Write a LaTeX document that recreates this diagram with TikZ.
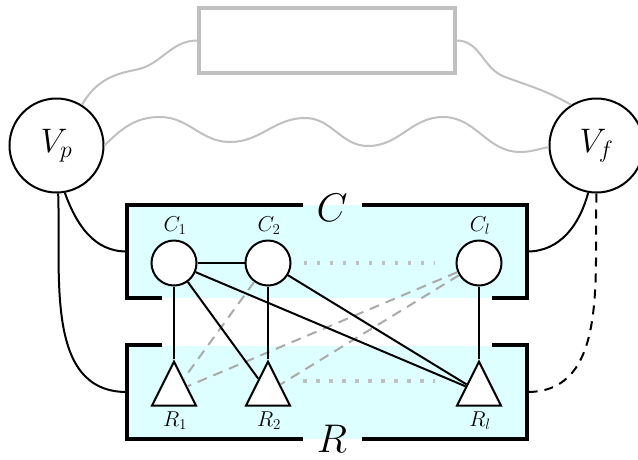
\RequirePackage{fix-cm}
\documentclass[tikz,border=0pt]{standalone}
\usetikzlibrary{shapes.geometric}
\definecolor{boxfill}{RGB}{221,255,255}
\definecolor{lightgr}{RGB}{192,192,192}
\definecolor{dashgr}{RGB}{170,170,170}
\begin{document}
\begin{tikzpicture}[x=1pt,y=-1pt,
  every node/.style={inner sep=0pt},
  bignode/.style={circle,draw,line width=2pt,fill=white,minimum size=94pt,font=\fontsize{34}{40}\selectfont},
  cnode/.style={circle,draw,line width=2pt,fill=white,minimum size=45pt},
  rnode/.style={isosceles triangle,isosceles triangle stretches,shape border rotate=90,draw,line width=2pt,fill=white,minimum width=44pt,minimum height=44pt,anchor=apex},
  boxbg/.style={rectangle,fill=boxfill,minimum width=400pt,minimum height=93pt},
  bracket/.style={line width=4pt},
  thin/.style={line width=2pt},
  gdash/.style={draw=dashgr,line width=2pt,dash pattern=on 10pt off 7pt},
  gdot/.style={draw=lightgr,line width=3.5pt,dash pattern=on 3.5pt off 9.5pt},
  wavy/.style={draw=lightgr,line width=2pt},
  lbl/.style={font=\fontsize{21.5}{25}\selectfont},
  biglbl/.style={font=\fontsize{40}{48}\selectfont},
]
\useasboundingbox (0,0) rectangle (638,459);

% boxes
\node[boxbg] (Cbox) at (327,251.5) {};
\node[boxbg] (Rbox) at (327,392) {};
\draw[bracket] ([xshift=-24pt]Cbox.north) -- (Cbox.north west) -- (Cbox.south west) -- ([xshift=35pt]Cbox.south west);
\draw[bracket] ([xshift=35pt]Cbox.north) -- (Cbox.north east) -- (Cbox.south east) -- ([xshift=-35pt]Cbox.south east);
\draw[bracket] ([xshift=35pt]Rbox.north west) -- (Rbox.north west) -- (Rbox.south west) -- ([xshift=-24pt]Rbox.south);
\draw[bracket] ([xshift=-35pt]Rbox.north east) -- (Rbox.north east) -- (Rbox.south east) -- ([xshift=35pt]Rbox.south);
\node[biglbl] (Clab) at (332,208) {$C$};
\node[biglbl] (Rlab) at (332,438.5) {$R$};

% top nodes
\node[rectangle,draw=lightgr,line width=3.5pt,minimum width=256pt,minimum height=65pt] (box) at (327,40.5) {};
\node[bignode] (Vp) at (56.5,145.5) {$V_p$};
\node[bignode] (Vf) at (596.5,145.5) {$V_f$};

% C and R nodes
\node[cnode] (C1) at (174,263) {};
\node[cnode] (C2) at (268,263) {};
\node[cnode] (Cl) at (479,263) {};
\node[lbl] (C1lab) at (175,226) {$C_1$};
\node[lbl] (C2lab) at (269,226) {$C_2$};
\node[lbl] (Cllab) at (480,226) {$C_l$};
\node[rnode] (R1) at (174,359) {};
\node[rnode] (R2) at (268,359) {};
\node[rnode] (Rl) at (479,359) {};
\node[lbl] (R1lab) at (175,421) {$R_1$};
\node[lbl] (R2lab) at (269,421) {$R_2$};
\node[lbl] (Rllab) at (480,421) {$R_l$};

% gray curves
\coordinate (u1) at (135,70);
\coordinate (u2) at (505,77);
\draw[wavy] (Vp.58) to[out=60,in=190] (u1) to[out=10,in=180] (box.west);
\draw[wavy] (box.east) to[out=0,in=160] (u2) to[out=-20,in=150] (Vf.122);
\coordinate (w1) at (160,117);
\coordinate (w2) at (230,142);
\coordinate (w3) at (305,118);
\coordinate (w4) at (368,146);
\coordinate (w5) at (443,117);
\coordinate (w6) at (520,152);
\draw[wavy] (Vp.0) to[out=45,in=180] (w1) to[out=0,in=180] (w2) to[out=0,in=180] (w3)
  to[out=0,in=180] (w4) to[out=0,in=180] (w5) to[out=0,in=180] (w6) to[out=0,in=190] (Vf.182);

% dotted
\coordinate (rd1) at (303,381);
\coordinate (rd2) at (435,381);
\draw[gdot] ([xshift=12pt]C2.east) -- ([xshift=-21pt]Cl.west);
\draw[gdot] (rd1) -- (rd2);

% gray dashed
\draw[gdash] (C2) -- (R1);
\draw[gdash] (Cl) -- (R1);
\draw[gdash] (Cl) -- (R2);

% black connectors
\draw[thin] (C1) -- (C2);
\draw[thin] (C1) -- (R1);
\draw[thin] (C2) -- (R2);
\draw[thin] (Cl) -- (Rl);
\draw[thin] (C1) -- (R2);
\draw[thin] (C1) -- (Rl);
\draw[thin] (C2) -- (Rl);

% side connectors
\draw[thin] (Vp.-80) to[out=-70,in=180] (Cbox.west);
\draw[thin] (Vp.-88) to[out=-88,in=180] (Rbox.west);
\draw[thin] (Vf.-100) to[out=-105,in=0] (Cbox.east);
\draw[thin,dash pattern=on 9pt off 7pt] (Vf.-90) to[out=-92,in=0] (Rbox.east);
\end{tikzpicture}
\end{document}
